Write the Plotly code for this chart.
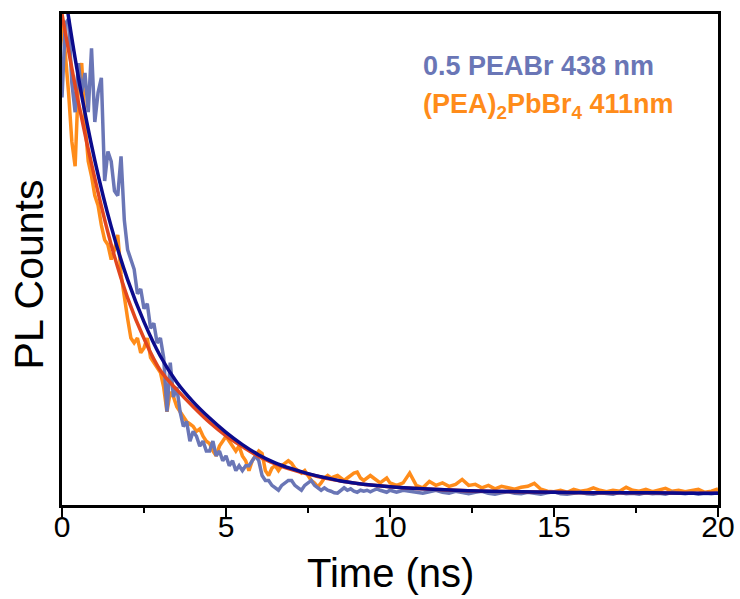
import numpy as np
import plotly.graph_objects as go

# time grids (ns)
t_data = list(np.round(np.arange(0, 10.0001, 0.1), 2)) + list(np.round(np.arange(10.2, 20.0001, 0.2), 2))
t_fit = list(np.round(np.arange(0, 10.0001, 0.5), 2)) + list(range(11, 21))

blue_data = [
    0.83, 0.98, 0.99, 0.86, 0.80, 0.90, 0.84, 0.88, 0.80, 0.93,
    0.78, 0.84, 0.87, 0.66, 0.72, 0.70, 0.64, 0.63, 0.71, 0.58,
    0.52, 0.50, 0.48, 0.43, 0.44, 0.40, 0.41, 0.36, 0.37, 0.33,
    0.34, 0.30, 0.19, 0.29, 0.22, 0.24, 0.19, 0.16, 0.17, 0.13,
    0.15, 0.14, 0.12, 0.13, 0.11, 0.11, 0.13, 0.10, 0.11, 0.09,
    0.10, 0.08, 0.09, 0.07, 0.08, 0.07, 0.08, 0.08, 0.09, 0.10,
    0.09, 0.06, 0.05, 0.05, 0.04, 0.035, 0.03, 0.04, 0.045, 0.05,
    0.05, 0.04, 0.035, 0.03, 0.04, 0.045, 0.05, 0.04, 0.035, 0.03,
    0.035, 0.03, 0.028, 0.025, 0.024, 0.03, 0.035, 0.03, 0.033, 0.028,
    0.026, 0.03, 0.028, 0.03, 0.027, 0.03, 0.033, 0.03, 0.028, 0.026,
    0.03,
    0.026, 0.03, 0.028, 0.025, 0.024, 0.027, 0.03, 0.026, 0.024, 0.028,
    0.025, 0.023, 0.026, 0.028, 0.024, 0.022, 0.025, 0.027, 0.024, 0.023,
    0.026, 0.024, 0.022, 0.025, 0.027, 0.023, 0.022, 0.024, 0.026, 0.023,
    0.022, 0.025, 0.024, 0.022, 0.026, 0.023, 0.024, 0.022, 0.025, 0.023,
    0.024, 0.022, 0.026, 0.024, 0.023, 0.025, 0.022, 0.024, 0.023, 0.025,
]

orange_data = [
    0.98, 0.92, 0.84, 0.74, 0.69, 0.86, 0.90, 0.78, 0.70, 0.67,
    0.63, 0.61, 0.57, 0.54, 0.53, 0.50, 0.52, 0.55, 0.47, 0.42,
    0.38, 0.34, 0.33, 0.34, 0.31, 0.32, 0.34, 0.30, 0.29, 0.28,
    0.27, 0.24, 0.19, 0.23, 0.22, 0.20, 0.19, 0.18, 0.17, 0.165,
    0.16, 0.15, 0.155, 0.14, 0.13, 0.125, 0.11, 0.10, 0.12, 0.13,
    0.14, 0.13, 0.12, 0.11, 0.12, 0.10, 0.09, 0.07, 0.09, 0.10,
    0.11, 0.105, 0.07, 0.06, 0.075, 0.08, 0.07, 0.08, 0.085, 0.09,
    0.085, 0.075, 0.07, 0.065, 0.07, 0.06, 0.05, 0.045, 0.037, 0.045,
    0.055, 0.06, 0.055, 0.058, 0.06, 0.055, 0.05, 0.055, 0.06, 0.065,
    0.067, 0.055, 0.05, 0.055, 0.06, 0.055, 0.05, 0.045, 0.05, 0.055,
    0.045,
    0.04, 0.045, 0.065, 0.04, 0.035, 0.048, 0.04, 0.045, 0.038, 0.042,
    0.052, 0.04, 0.042, 0.035, 0.04, 0.033, 0.038, 0.035, 0.032, 0.036,
    0.038, 0.044, 0.032, 0.028, 0.027, 0.03, 0.026, 0.032, 0.028, 0.03,
    0.035, 0.03, 0.027, 0.03, 0.028, 0.036, 0.03, 0.028, 0.032, 0.027,
    0.03, 0.034, 0.028, 0.03, 0.027, 0.029, 0.032, 0.026, 0.028, 0.033,
]

navy_fit = [1.081, 0.871, 0.702, 0.567, 0.459, 0.373, 0.303, 0.250, 0.210, 0.177,
            0.148, 0.123, 0.102, 0.086, 0.074, 0.064, 0.056, 0.049, 0.044, 0.040,
            0.037, 0.033, 0.030, 0.028, 0.027, 0.026, 0.025, 0.025, 0.025, 0.024, 0.024]
red_fit = [1.00, 0.82, 0.665, 0.53, 0.422, 0.339, 0.274, 0.235, 0.200, 0.168,
           0.141, 0.119, 0.099, 0.084, 0.072, 0.063, 0.055, 0.049, 0.044, 0.040,
           0.037, 0.033, 0.030, 0.028, 0.027, 0.026, 0.025, 0.025, 0.025, 0.024, 0.024]

x_ticks = [0, 5, 10, 15, 20]

BLUE = "#6a76b6"
ORANGE = "#ff8c1a"
NAVY = "#0b0b8c"
RED = "#e2461e"
FONT = "Liberation Sans, Arial, sans-serif"

fig = go.Figure()
fig.add_trace(go.Scatter(x=t_data, y=orange_data, mode="lines",
                         line=dict(color=ORANGE, width=3.5), showlegend=False))
fig.add_trace(go.Scatter(x=t_data, y=blue_data, mode="lines",
                         line=dict(color=BLUE, width=3.5), showlegend=False))
fig.add_trace(go.Scatter(x=t_fit, y=red_fit, mode="lines",
                         line=dict(color=RED, width=3.5, shape="spline"), showlegend=False))
fig.add_trace(go.Scatter(x=t_fit, y=navy_fit, mode="lines",
                         line=dict(color=NAVY, width=3.5, shape="spline"), showlegend=False))

fig.add_annotation(x=0.547, y=0.894, xref="paper", yref="paper", xanchor="left", yanchor="middle",
                   text="<b>0.5 PEABr 438 nm</b>", showarrow=False,
                   font=dict(family=FONT, size=27, color=BLUE))
fig.add_annotation(x=0.547, y=0.812, xref="paper", yref="paper", xanchor="left", yanchor="middle",
                   text="<b>(PEA)<sub>2</sub>PbBr<sub>4</sub> 411nm</b>", showarrow=False,
                   font=dict(family=FONT, size=27, color=ORANGE))
# axis titles
fig.add_annotation(x=-0.05, y=0.47, xref="paper", yref="paper", xanchor="center", yanchor="middle",
                   text="PL Counts", textangle=-90, showarrow=False,
                   font=dict(family=FONT, size=41, color="black"))
fig.add_annotation(x=0.5, y=-0.139, xref="paper", yref="paper", xanchor="center", yanchor="middle",
                   text="Time (ns)", showarrow=False,
                   font=dict(family=FONT, size=40, color="black"))

fig.update_layout(
    width=740, height=599,
    margin=dict(l=62, r=22, t=14, b=94),
    plot_bgcolor="white", paper_bgcolor="white",
    font=dict(family=FONT, color="black"),
)
fig.update_xaxes(
    range=[0, 20], tickvals=x_ticks, ticktext=[str(v) for v in x_ticks],
    ticks="outside", ticklen=9, tickwidth=2, tickcolor="black",
    minor=dict(tickvals=[2.5, 7.5, 12.5, 17.5], ticks="outside", ticklen=5, tickwidth=2, tickcolor="black"),
    tickfont=dict(size=30, family=FONT), ticklabelstandoff=-16, automargin=False,
    showline=True, linewidth=2.5, linecolor="black",
    mirror=True, showgrid=False, zeroline=False,
)
fig.update_yaxes(
    range=[0, 1], showticklabels=False, ticks="", showline=True, linewidth=2.5,
    linecolor="black", mirror=True, showgrid=False, zeroline=False, automargin=False,
)

fig.write_html("out.html")
